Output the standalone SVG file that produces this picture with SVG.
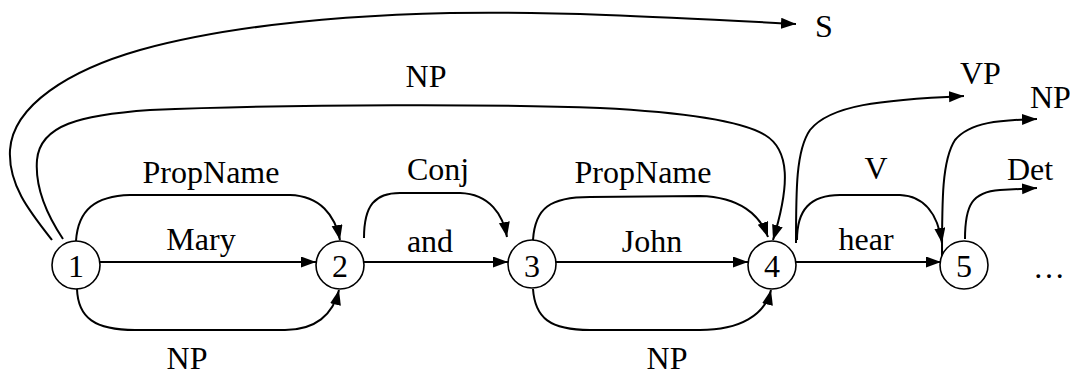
<svg xmlns="http://www.w3.org/2000/svg" width="1070" height="374" viewBox="0 0 1070 374">
<style>
.e{fill:none;stroke:#000;stroke-width:2;marker-end:url(#ah)}
.n{fill:#fff;stroke:#000;stroke-width:1.6}
.t{font-family:"Times New Roman","Liberation Serif",Tinos,"DejaVu Serif",serif;font-size:32px;fill:#000}
.m{text-anchor:middle}
</style>
<defs>
<marker id="ah" markerUnits="userSpaceOnUse" markerWidth="16" markerHeight="12" refX="15" refY="5.5" orient="auto">
<path d="M0,0 L15,5.5 L0,11 z" fill="#000"/>
</marker>
</defs>
<rect width="1070" height="374" fill="#fff"/>
<g id="connectors">
<path class="e" d="M52,240 C30,212 8,185 10,150 C13,105 70,70 140,50 C220,28 320,16 450,13 C560,11 680,18 796,24"/>
<path class="e" d="M63,239 C45,212 35,185 37,160 C40,125 80,115 150,110 C300,104 500,104 600,108 C680,112 740,120 765,135 C790,150 790,185 773,240"/>
<path class="e" d="M76,241 C78,210 95,196 130,195 L290,195 C320,196 335,215 340,240"/>
<path class="e" d="M77,289 C78,318 95,330 135,330 L285,330 C315,330 333,315 339,290"/>
<path class="e" d="M100,262 L316,262"/>
<path class="e" d="M364,238 C364,205 375,193 400,193 L460,193 C490,194 503,215 507,237"/>
<path class="e" d="M364,262 L508,262"/>
<path class="e" d="M533,240 C535,208 550,197 590,197 L700,196 C740,197 760,215 768,237"/>
<path class="e" d="M556,262 L748,262"/>
<path class="e" d="M533,289 C535,318 550,330 590,330 L700,330 C740,330 765,315 771,290"/>
<path class="e" d="M796,243 C796,190 796,150 810,130 C830,105 880,100 964,96"/>
<path class="e" d="M797,240 C797,210 810,195 840,195 L900,195 C925,196 938,215 942,243"/>
<path class="e" d="M796,262 L941,262"/>
<path class="e" d="M942,256 C942,200 942,160 955,140 C970,122 1000,120 1037,119"/>
<path class="e" d="M965,239 C965,205 972,192 1000,190 L1037,188"/>
</g>
<g id="node1"><circle class="n" cx="76" cy="265" r="24"/><text class="t m" x="76" y="277">1</text></g>
<g id="node2"><circle class="n" cx="340" cy="265" r="24"/><text class="t m" x="340" y="277">2</text></g>
<g id="node3"><circle class="n" cx="532" cy="264" r="24"/><text class="t m" x="532" y="277">3</text></g>
<g id="node4"><circle class="n" cx="772" cy="265" r="24"/><text class="t m" x="772" y="277">4</text></g>
<g id="node5"><circle class="n" cx="964" cy="265" r="24"/><text class="t m" x="964" y="277">5</text></g>
<g id="labels">
<text class="t m" x="211" y="183">PropName</text>
<text class="t m" x="201" y="250">Mary</text>
<text class="t m" x="187" y="369">NP</text>
<text class="t m" x="438" y="180">Conj</text>
<text class="t m" x="430" y="252">and</text>
<text class="t m" x="643" y="183">PropName</text>
<text class="t m" x="652" y="252">John</text>
<text class="t m" x="667" y="369">NP</text>
<text class="t m" x="426" y="87">NP</text>
<text class="t" x="815" y="37">S</text>
<text class="t" x="960" y="84">VP</text>
<text class="t" x="1030" y="108">NP</text>
<text class="t m" x="876" y="179">V</text>
<text class="t m" x="866" y="250">hear</text>
<text class="t" x="1007" y="180">Det</text>
<text class="t" x="1033" y="278">…</text>
</g>
</svg>
